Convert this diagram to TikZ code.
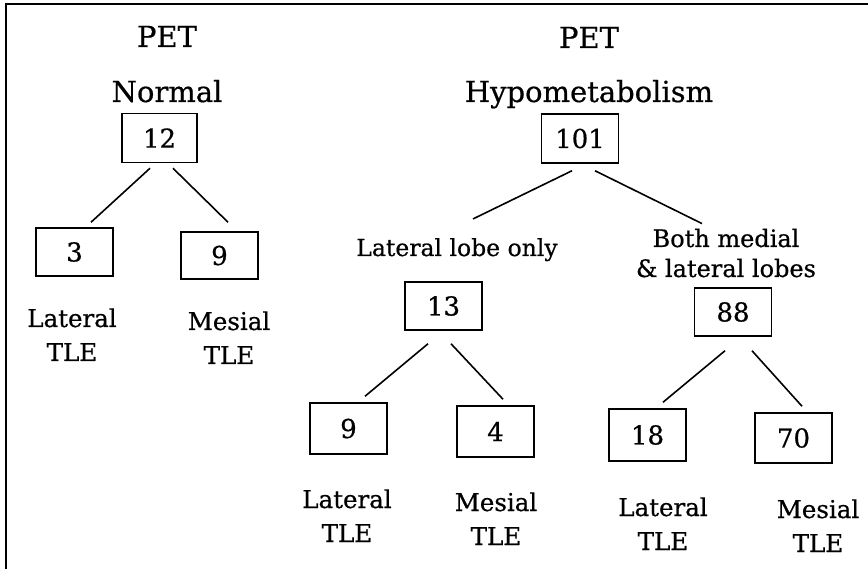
\documentclass[tikz,border=0pt]{standalone}
\usepackage{fontspec}
\setmainfont{DejaVu Serif}[FakeBold=0.6]
\begin{document}
\begin{tikzpicture}[x=1pt,y=-1pt,
  box/.style={draw,line width=1.5pt,minimum width=77pt,minimum height=49pt,inner sep=0pt,font=\fontsize{26}{30}\selectfont},
  head/.style={anchor=base,inner sep=0pt,font=\fontsize{29}{36}\selectfont},
  lab/.style={anchor=base,align=center,inner sep=0pt,font=\fontsize{24.5}{34}\selectfont},
  link/.style={line width=1.6pt}]
\useasboundingbox (0,0) rectangle (868,569);
\draw[line width=1.8pt] (6,569) -- (6,4) -- (868,4);
\node[head] (petnorm) at (167,47) {PET};
\node[head] (normal) at (167,102) {Normal};
\node[head] (pethypo) at (589,48) {PET};
\node[head] (hypo) at (589,102) {Hypometabolism};
\node[box,minimum width=75pt] (n12) at (159.5,138) {12};
\node[box,minimum height=48pt] (n3) at (74.5,252) {3};
\node[box,minimum height=47pt] (n9a) at (219.5,255.5) {9};
\node[box] (n101) at (580,138.5) {101};
\node[lab,font=\fontsize{23.5}{30}\selectfont] (latonly) at (457,256) {Lateral lobe only};
\node[lab,font=\fontsize{24}{30}\selectfont] (bothlobes) at (726,277) {Both medial\\\& lateral lobes};
\node[box,minimum height=48pt] (n13) at (443.5,306) {13};
\node[box,minimum height=48pt] (n88) at (733,312) {88};
\node[box,minimum height=51pt] (n9b) at (348.5,428.5) {9};
\node[box,minimum height=51pt] (n4) at (495.5,431.5) {4};
\node[box,minimum height=52pt] (n18) at (647.5,435) {18};
\node[box,minimum height=50pt] (n70) at (793.5,438) {70};
\node[lab] (latA) at (72,361) {Lateral\\TLE};
\node[lab] (mesA) at (229,364) {Mesial\\TLE};
\node[lab] (latB) at (347,542) {Lateral\\TLE};
\node[lab] (mesB) at (496,545) {Mesial\\TLE};
\node[lab] (latC) at (663,550) {Lateral\\TLE};
\node[lab] (mesC) at (818,552) {Mesial\\TLE};
\draw[link] ([shift={(-9.5,5)}]n12.south) -- ([shift={(16.5,-5)}]n3.north);
\draw[link] ([shift={(13.5,5)}]n12.south) -- ([shift={(8.5,-9)}]n9a.north);
\draw[link] ([shift={(-8,7)}]n101.south) -- ([shift={(16,-19)}]latonly.north);
\draw[link] ([shift={(15,7)}]n101.south) -- ([shift={(-24,-5)}]bothlobes.north);
\draw[link] ([shift={(-15.5,13)}]n13.south) -- ([shift={(16.5,-6)}]n9b.north);
\draw[link] ([shift={(7.5,13)}]n13.south) -- ([shift={(7.5,-6)}]n4.north);
\draw[link] ([shift={(-8,14)}]n88.south) -- ([shift={(15.5,-6)}]n18.north);
\draw[link] ([shift={(19,14)}]n88.south) -- ([shift={(8.5,-6)}]n70.north);
\end{tikzpicture}
\end{document}
